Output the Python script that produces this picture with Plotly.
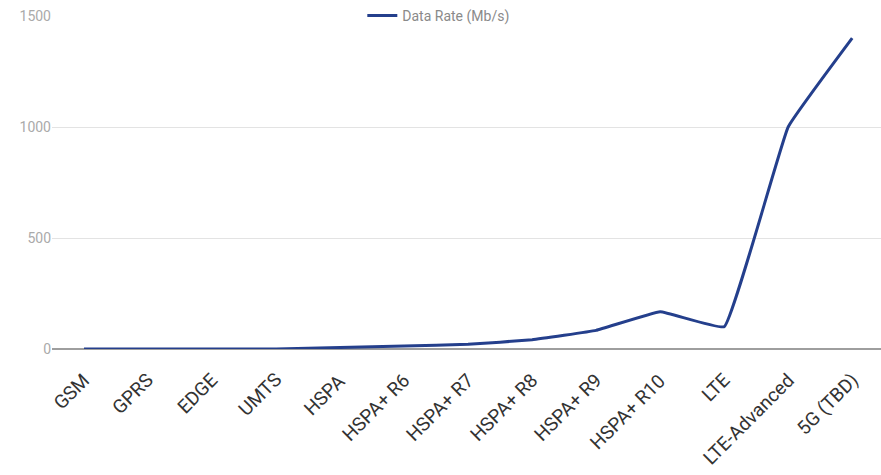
import plotly.graph_objects as go

categories = ["GSM", "GPRS", "EDGE", "UMTS", "HSPA", "HSPA+ R6", "HSPA+ R7",
              "HSPA+ R8", "HSPA+ R9", "HSPA+ R10", "LTE", "LTE-Advanced", "5G (TBD)"]
data_rate = [0.0096, 0.1, 0.236, 0.384, 7.2, 14, 21, 42, 84, 168, 100, 1000, 1400]
y_ticks = [0, 500, 1000, 1500]

fig = go.Figure()
fig.add_trace(go.Scatter(
    x=categories, y=data_rate, mode="lines", name="Data Rate (Mb/s)",
    line=dict(color="#243f8c", width=3, shape="spline", smoothing=0.25),
))

# rotated category labels, placed on the category axis positions
for cat in categories:
    fig.add_annotation(
        x=cat, xref="x", y=0, yref="paper",
        text=cat, showarrow=False, textangle=-45,
        xanchor="right", yanchor="top", xshift=13, yshift=-17,
        font=dict(size=19, color="#333333", family="Roboto, Arial, sans-serif"),
    )

fig.update_layout(
    width=881, height=475,
    margin=dict(l=52, r=0, t=14, b=126),
    paper_bgcolor="white", plot_bgcolor="white",
    font=dict(family="Roboto, Arial, sans-serif"),
    showlegend=True,
    legend=dict(orientation="h", x=0.466, xanchor="center", y=1.0, yanchor="middle",
                bgcolor="white", font=dict(size=14, color="#8a8a8a"),
                itemwidth=30),
    xaxis=dict(type="category", range=[-0.5, 12.45], showgrid=False,
               showticklabels=False,
               ticks="", showline=False, zeroline=False, automargin=False),
    yaxis=dict(range=[0, 1500], tickvals=y_ticks, showgrid=True,
               gridcolor="#e3e3e3", gridwidth=1,
               zeroline=True, zerolinecolor="#9e9e9e", zerolinewidth=2,
               tickfont=dict(size=14, color="#aaaaaa"), ticks="",
               showline=False, automargin=False),
)

fig.write_html("out.html")
